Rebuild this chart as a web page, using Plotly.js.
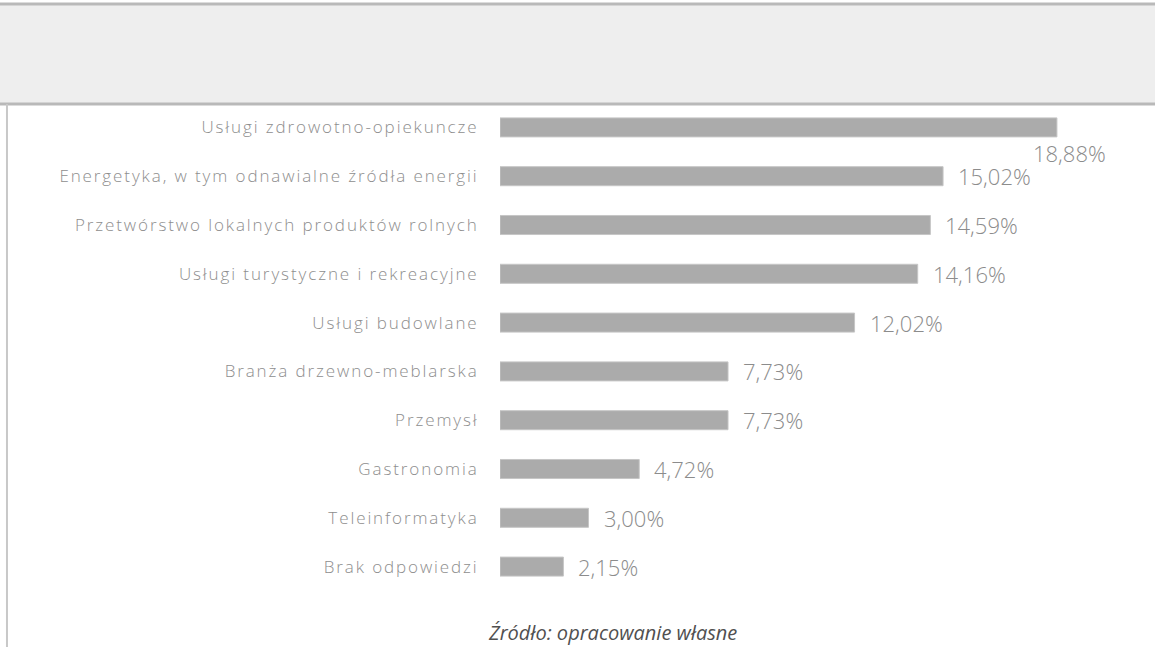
<!DOCTYPE html>
<html>
<head>
<meta charset="utf-8">
<script src="https://cdn.plot.ly/plotly-3.0.1.min.js"></script>
<style>
  html, body { margin: 0; padding: 0; background: #ffffff; }
  #chart { width: 1155px; height: 647px; }
  #chart .ytick text { letter-spacing: 1.9px; }
</style>
</head>
<body>
<div id="chart"></div>
<script>
// ---- data ----
const categories = [
  "Usługi zdrowotno-opiekuncze",
  "Energetyka, w tym odnawialne źródła energii",
  "Przetwórstwo lokalnych produktów rolnych",
  "Usługi turystyczne i rekreacyjne",
  "Usługi budowlane",
  "Branża drzewno-meblarska",
  "Przemysł",
  "Gastronomia",
  "Teleinformatyka",
  "Brak odpowiedzi"
];
const values = [18.88, 15.02, 14.59, 14.16, 12.02, 7.73, 7.73, 4.72, 3.00, 2.15];
const valueLabels = ["18,88%", "15,02%", "14,59%", "14,16%", "12,02%", "7,73%", "7,73%", "4,72%", "3,00%", "2,15%"];
const sourceText = "Źródło: opracowanie własne";

// ---- chart ----
const trace = {
  type: "bar",
  orientation: "h",
  x: values,
  y: categories,
  marker: { color: "#ababab", line: { color: "#c6c6c6", width: 1 } },
  hoverinfo: "skip",
  showlegend: false
};

const labelAnnotations = values.map((v, i) => ({
  x: v,
  y: categories[i],
  xref: "x",
  yref: "y",
  text: valueLabels[i],
  showarrow: false,
  xanchor: "left",
  yanchor: "middle",
  xshift: i === 0 ? -26 : 13,
  yshift: i === 0 ? -26 : 0,
  font: { family: "Open Sans, sans-serif", size: 22, weight: 300, color: "#8c8c8c" }
}));

const layout = {
  width: 1155,
  height: 647,
  margin: { l: 500, r: 55, t: 102.5, b: 55.5, pad: 0 },
  paper_bgcolor: "#ffffff",
  plot_bgcolor: "#ffffff",
  bargap: 0.61,
  xaxis: {
    range: [0, 20.34],
    visible: false,
    showgrid: false,
    zeroline: false,
    fixedrange: true
  },
  yaxis: {
    type: "category",
    categoryorder: "array",
    categoryarray: categories,
    range: [9.5, -0.5],
    showgrid: false,
    zeroline: false,
    showline: false,
    ticks: "outside",
    ticklen: 17,
    tickcolor: "rgba(0,0,0,0)",
    tickfont: { family: "Open Sans, sans-serif", size: 17, weight: 300, color: "#8e8e8e" },
    fixedrange: true
  },
  shapes: [
    // header band
    { type: "rect", xref: "paper", yref: "paper",
      x0: -0.84, x1: 1.095, y0: 0.998, y1: 1.203,
      fillcolor: "#eeeeee", line: { color: "#b9b9b9", width: 3 }, layer: "below" },
    // left frame line
    { type: "line", xref: "paper", yref: "paper",
      x0: -0.8217, x1: -0.8217, y0: 0.998, y1: -0.12,
      line: { color: "#c8c8c8", width: 2 } }
  ],
  annotations: labelAnnotations.concat([
    { xref: "paper", yref: "paper", x: 0.187, y: -0.085,
      text: sourceText, showarrow: false, xanchor: "center", yanchor: "middle",
      font: { family: "Open Sans, sans-serif", size: 20, color: "#505050", style: "italic" } }
  ])
};

Plotly.newPlot("chart", [trace], layout, { staticPlot: true, displayModeBar: false });
</script>
</body>
</html>
